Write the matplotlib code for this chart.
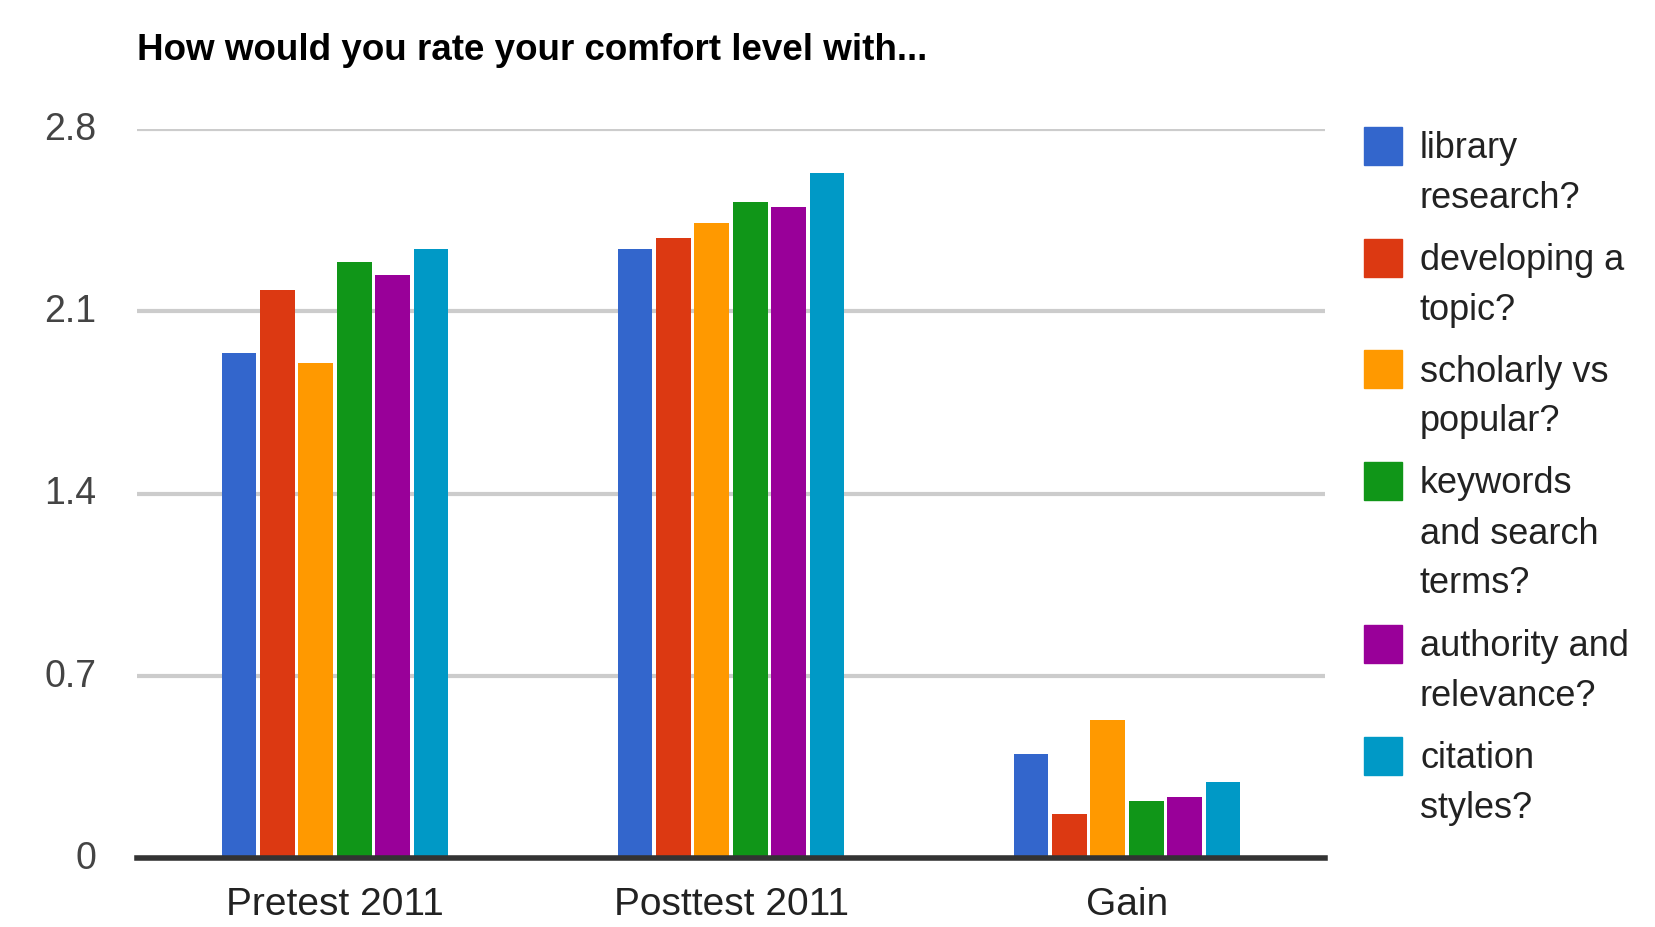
import matplotlib
matplotlib.use("Agg")
import matplotlib.pyplot as plt
from matplotlib import font_manager
from matplotlib.patches import Rectangle
import numpy as np

# chart data
groups = ["Pretest 2011", "Posttest 2011", "Gain"]
series = ["library\nresearch?", "developing a\ntopic?", "scholarly vs\npopular?",
          "keywords\nand search\nterms?", "authority and\nrelevance?", "citation\nstyles?"]
library = [1.94, 2.34, 0.40]
developing = [2.18, 2.38, 0.17]
scholarly = [1.90, 2.44, 0.53]
keywords = [2.29, 2.52, 0.22]
authority = [2.24, 2.50, 0.235]
citation = [2.34, 2.63, 0.29]
yticks = [0, 0.7, 1.4, 2.1, 2.8]
colors = ["#3366cc", "#dc3912", "#ff9900", "#109618", "#990099", "#0099c6"]

names = {f.name for f in font_manager.fontManager.ttflist}
narrow = "Liberation Sans Narrow" if "Liberation Sans Narrow" in names else "Liberation Sans"
plain = "Liberation Sans"

W, H = 1655, 928
fig = plt.figure(figsize=(W / 100, H / 100), dpi=100)
ax = fig.add_axes([137 / W, (H - 859) / H, (1325 - 137) / W, (859 - 130) / H])

values = [library, developing, scholarly, keywords, authority, citation]
x = np.arange(len(groups))
slot = 0.097
width = 0.088
for i, vals in enumerate(values):
    ax.bar(x + (i - 2.5) * slot, vals, width, color=colors[i], zorder=3)

ax.set_xlim(-0.5, 2.5)
ax.set_ylim(0, 2.8)
ax.set_yticks(yticks)
ax.set_yticklabels(["0", "0.7", "1.4", "2.1", "2.8"], fontfamily=narrow, fontsize=27, color="#444444")
ax.set_xticks(x)
ax.set_xticklabels(groups, fontfamily=narrow, fontsize=28, color="#222222")
ax.tick_params(axis="y", length=0, pad=29)
ax.tick_params(axis="x", length=0, pad=20)
for t in ax.get_yticklabels():
    t.set_verticalalignment("center")
ax.grid(axis="y", color="#cccccc", linewidth=3, zorder=0)
ax.set_axisbelow(True)
for s in ["top", "right", "left"]:
    ax.spines[s].set_visible(False)
ax.spines["bottom"].set_color("#333333")
ax.spines["bottom"].set_linewidth(4)
ax.spines["bottom"].set_zorder(4)

fig.text(137 / W, 1 - 50 / H, "How would you rate your comfort level with...",
         fontfamily=narrow, fontweight="bold", fontsize=26.5, color="black", va="center", ha="left")

# legend drawn by hand so the wrapped labels line up like the original
tops = [128, 240, 351, 463, 626, 738]
sw = 38
line_h = 50
for lab, col, top in zip(series, colors, tops):
    fig.patches.append(Rectangle((1364 / W, 1 - (top + sw) / H), sw / W, sw / H,
                                 transform=fig.transFigure, color=col))
    for k, line in enumerate(lab.split("\n")):
        yc = top + sw / 2 + 2 + k * line_h
        fig.text(1420 / W, 1 - yc / H, line, fontfamily=plain, fontsize=26,
                 color="#222222", va="center", ha="left")

fig.savefig("out.png", dpi=100)
